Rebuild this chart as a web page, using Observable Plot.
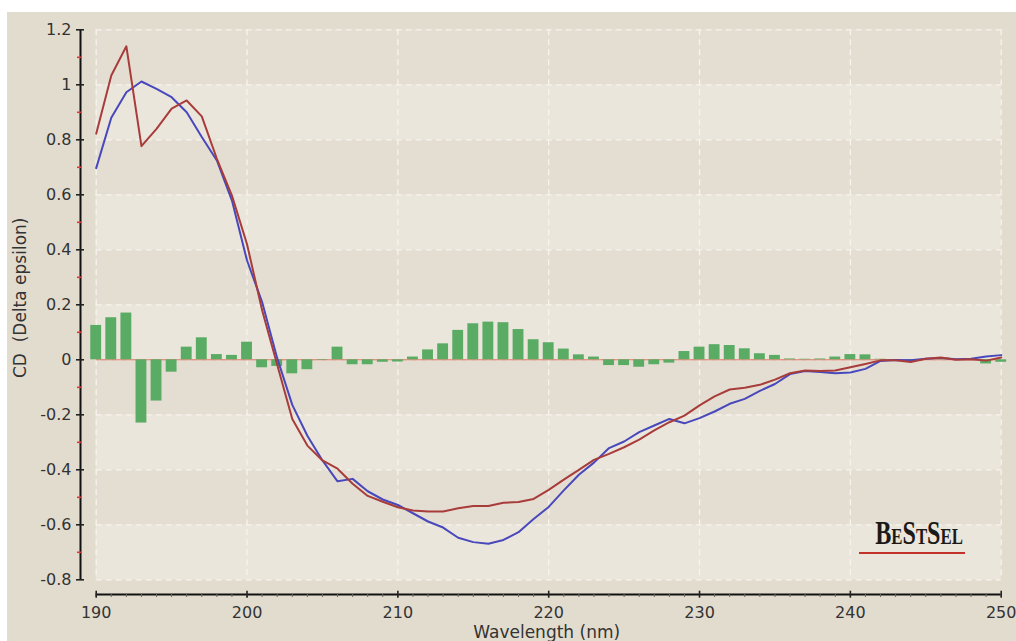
<!DOCTYPE html>
<html>
<head>
<meta charset="utf-8">
<script src="https://cdn.jsdelivr.net/npm/d3@7"></script>
<script src="https://cdn.jsdelivr.net/npm/@observablehq/plot@0.6"></script>
<style>
  body { margin: 0; background: #ffffff; width: 1016px; height: 641px; overflow: hidden; position: relative; }
  #chart { position: absolute; left: 7px; top: 12px; }
  #logo { position: absolute; left: 859px; top: 517px; width: 106px; text-align: center;
          font-family: "Liberation Serif", serif; font-weight: bold; font-size: 33px; line-height: 33px;
          font-variant: small-caps; color: #1c1a18; border-bottom: 2.5px solid #c2312b; padding-bottom: 2px; }
  #logo span { display: inline-block; transform: scaleX(0.73); transform-origin: center; }
</style>
</head>
<body>
<div id="chart"></div>
<div id="logo"><span>BeStSel</span></div>
<script>
// Wavelength (nm)
const wavelengths = [190,191,192,193,194,195,196,197,198,199,200,201,202,203,204,205,206,207,208,209,
  210,211,212,213,214,215,216,217,218,219,220,221,222,223,224,225,226,227,228,229,
  230,231,232,233,234,235,236,237,238,239,240,241,242,243,244,245,246,247,248,249,250];

// Measured CD spectrum (red)
const measured = [0.822,1.034,1.140,0.777,0.840,0.913,0.943,0.885,0.731,0.597,
  0.420,0.180,-0.018,-0.215,-0.312,-0.366,-0.396,-0.451,-0.495,-0.516,
  -0.536,-0.548,-0.552,-0.552,-0.540,-0.532,-0.532,-0.520,-0.517,-0.506,
  -0.473,-0.436,-0.400,-0.364,-0.342,-0.318,-0.290,-0.257,-0.227,-0.203,
  -0.166,-0.133,-0.108,-0.102,-0.091,-0.072,-0.049,-0.039,-0.041,-0.039,
  -0.027,-0.015,-0.002,-0.002,-0.008,0.004,0.008,0.000,0.002,-0.003,0.008];

// Fitted spectrum (blue)
const fitted = [0.697,0.880,0.973,1.012,0.985,0.955,0.900,0.810,0.725,0.579,
  0.361,0.210,0.006,-0.164,-0.276,-0.366,-0.442,-0.433,-0.478,-0.508,
  -0.528,-0.558,-0.588,-0.610,-0.647,-0.663,-0.669,-0.655,-0.627,-0.579,
  -0.535,-0.475,-0.418,-0.374,-0.321,-0.297,-0.263,-0.239,-0.215,-0.231,
  -0.212,-0.188,-0.160,-0.142,-0.113,-0.088,-0.052,-0.041,-0.044,-0.049,
  -0.046,-0.033,-0.004,-0.001,-0.002,0.004,0.007,0.002,0.004,0.012,0.017];

// Residuals (green bars)
const residual = [0.125,0.153,0.170,-0.230,-0.150,-0.045,0.046,0.080,0.019,0.016,
  0.064,-0.029,-0.024,-0.051,-0.036,-0.002,0.046,-0.018,-0.018,-0.009,
  -0.008,0.010,0.036,0.058,0.107,0.131,0.137,0.135,0.110,0.073,
  0.062,0.039,0.018,0.010,-0.021,-0.021,-0.027,-0.018,-0.012,0.030,
  0.046,0.055,0.052,0.040,0.022,0.016,0.003,0.002,0.003,0.010,
  0.019,0.018,0.002,-0.001,-0.004,0.000,0.001,-0.002,-0.002,-0.015,-0.009];

// Axis ticks
const xTicks = [190,200,210,220,230,240,250];
const yTicks = [-0.8,-0.6,-0.4,-0.2,0,0.2,0.4,0.6,0.8,1.0,1.2];
const yMinor = [-0.7,-0.5,-0.3,-0.1,0.1,0.3,0.5,0.7,0.9,1.1];
const xLabel = "Wavelength (nm)";
const yLabel = "CD\u00a0 (Delta epsilon)";

const rows = wavelengths.map((w, i) => ({w, measured: measured[i], fitted: fitted[i], residual: residual[i]}));
const bands = yTicks.slice(0, -1).map((v, i) => ({y1: v, y2: yTicks[i + 1], i}));
const x0 = xTicks[0], x1 = xTicks[xTicks.length - 1];
const yLo = yTicks[0], yHi = yTicks[yTicks.length - 1];
const fmt = d => String(+d.toFixed(1));

const chart = Plot.plot({
  width: 1009,
  height: 629,
  marginLeft: 88.7,
  marginRight: 15.3,
  marginTop: 17.3,
  marginBottom: 61.7,
  x: {domain: [x0, x1]},
  y: {domain: [yLo, yHi]},
  style: {background: "#e2dccf", fontFamily: "'DejaVu Sans', sans-serif", fontSize: "16px", color: "#333"},
  marks: [
    Plot.rect(bands, {x1: () => x0, x2: () => x1, y1: "y1", y2: "y2",
      fill: d => d.i % 2 ? "#e4ded2" : "#ebe6dc"}),
    Plot.gridY(yTicks, {stroke: "#f7f4ee", strokeOpacity: 1, strokeWidth: 1.3, strokeDasharray: "6,4"}),
    Plot.gridX(xTicks, {stroke: "#f7f4ee", strokeOpacity: 1, strokeWidth: 1.3, strokeDasharray: "6,4"}),
    Plot.ruleY([0], {stroke: "#e0705e", strokeWidth: 1}),
    Plot.rect(rows, {x1: d => d.w - 0.36, x2: d => d.w + 0.36, y1: () => 0, y2: "residual", fill: "#5aab64"}),
    Plot.lineY(rows, {x: "w", y: "fitted", stroke: "#4848bc", strokeWidth: 2}),
    Plot.lineY(rows, {x: "w", y: "measured", stroke: "#a83c3a", strokeWidth: 2}),
    // axis lines (span the whole frame = the full scale domain)
    Plot.ruleX([x0], {dx: -15.7, stroke: "#111", strokeWidth: 2}),
    Plot.ruleY([yLo], {dy: 14.7, stroke: "#111", strokeWidth: 2}),
    // ticks and labels
    Plot.axisY(yMinor, {tickSize: 5, dx: -13.7, stroke: "#e23a3a", strokeWidth: 1.6, fill: "none", label: null, tickFormat: () => ""}),
    Plot.axisY(yTicks, {tickSize: 8, tickPadding: 5, dx: -11.7, stroke: "#222", strokeWidth: 1.6, fill: "#333", label: null, tickFormat: fmt, fontSize: 16}),
    Plot.axisX(wavelengths, {tickSize: 3, dy: 14.7, stroke: "#666", strokeWidth: 1, fill: "none", label: null, tickFormat: () => ""}),
    Plot.axisX(xTicks, {tickSize: 7, tickPadding: 8, dy: 11.4, stroke: "#222", strokeWidth: 1.6, fill: "#333", label: null, tickFormat: d => String(d), fontSize: 16}),
    Plot.text([yLabel], {frameAnchor: "left", rotate: -90, dx: -75.7, dy: -7, textAnchor: "middle", lineAnchor: "middle", fontSize: 17, fill: "#333"}),
    Plot.text([xLabel], {frameAnchor: "bottom", dx: -2, dy: 52.5, textAnchor: "middle", lineAnchor: "middle", fontSize: 17, fill: "#333"})
  ]
});
document.getElementById("chart").appendChild(chart);
</script>
</body>
</html>
